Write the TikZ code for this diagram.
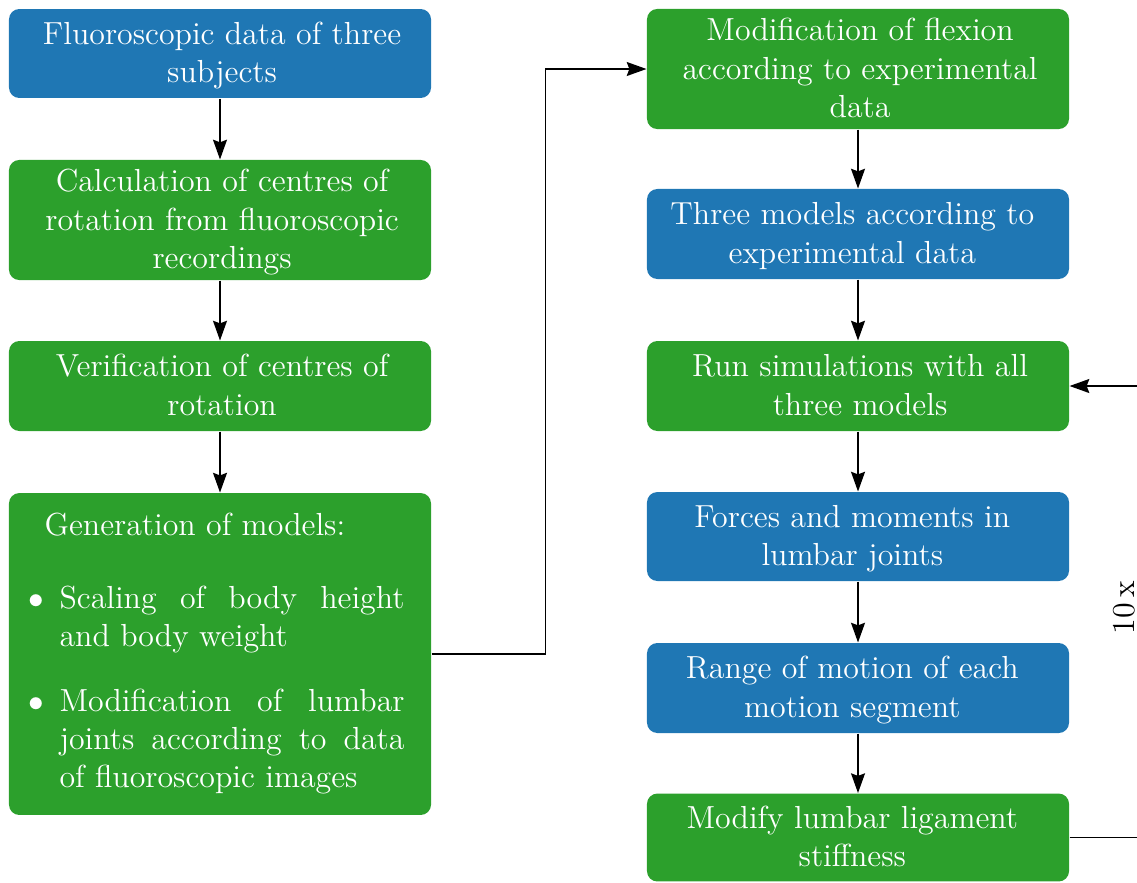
\documentclass[tikz,border=0pt]{standalone}
\usetikzlibrary{arrows.meta}

\definecolor{flowblue}{HTML}{1F77B4}
\definecolor{flowgreen}{HTML}{2CA02C}

% centred block of lines, shifted sideways by #1 and lowered slightly
\newcommand{\boxlines}[2][0pt]{\hspace*{#1}\hspace*{#1}\raisebox{-0.9pt}[\height][\depth]{\begin{tabular}{@{}c@{}}#2\end{tabular}}}

\tikzset{
  boxfont/.style={font=\fontsize{12.3}{14.8}\selectfont},
  flowbox/.style={rounded corners=4pt, minimum width=162.7pt, inner sep=0pt,
    text=white, boxfont},
  bluebox/.style={flowbox, fill=flowblue},
  greenbox/.style={flowbox, fill=flowgreen},
  listtext/.style={inner sep=0pt, text=white, text width=133pt, align=justify,
    boxfont, anchor=base west},
  flowarrow/.style={-{Stealth[length=7.6pt,width=5.4pt,inset=1pt]}, line width=0.55pt},
}

\begin{document}
\begin{tikzpicture}[x=0.3855pt, y=-0.3855pt]
  \useasboundingbox (0,0) rectangle (1137,882);
  \clip (0,0) rectangle (1137,882);

  % left column
  \node[bluebox, minimum height=34.3pt] (l1) at (220,53.5)
    {\boxlines[0.8pt]{Fluoroscopic data of three\\subjects}};
  \node[greenbox, minimum height=46.3pt] (l2) at (220,220)
    {\boxlines[0.8pt]{Calculation of centres of\\rotation from fluoroscopic\\recordings}};
  \node[greenbox, minimum height=34.7pt] (l3) at (220,386)
    {\boxlines[0.8pt]{Verification of centres of\\rotation}};
  \node[greenbox, minimum height=124.1pt] (l4) at (220,654) {};
  \node[listtext] (l4title) at (44,535) {Generation of models:};
  \node[listtext] (l4itemA) at (59,608)
    {\llap{$\bullet$\hspace{6pt}}Scaling of body height\linebreak and body weight};
  \node[listtext] (l4itemB) at (59,711)
    {\llap{$\bullet$\hspace{6pt}}Modification of lumbar\linebreak joints according to data\linebreak of fluoroscopic images};

  % right column
  \node[greenbox, minimum height=46.3pt] (r1) at (858,69)
    {\boxlines[0.8pt]{Modification of flexion\\according to experimental\\data}};
  \node[bluebox, minimum height=34.7pt] (r2) at (858,234)
    {\boxlines[-2.2pt]{Three models according to\\experimental data}};
  \node[greenbox, minimum height=34.7pt] (r3) at (858,386)
    {\boxlines[0.8pt]{Run simulations with all\\three models}};
  \node[bluebox, minimum height=34.3pt] (r4) at (858,536.5)
    {\boxlines[-2.2pt]{Forces and moments in\\lumbar joints}};
  \node[bluebox, minimum height=34.7pt] (r5) at (858,688)
    {\boxlines[-2.2pt]{Range of motion of each\\motion segment}};
  \node[greenbox, minimum height=33.9pt] (r6) at (858,837.5)
    {\boxlines[-2.2pt]{Modify lumbar ligament\\stiffness}};

  % connectors
  \draw[flowarrow] (l1) -- (l2);
  \draw[flowarrow] (l2) -- (l3);
  \draw[flowarrow] (l3) -- (l4);
  \draw[flowarrow] (l4.east) -- ++(114,0) |- (r1.west);
  \draw[flowarrow] (r1) -- (r2);
  \draw[flowarrow] (r2) -- (r3);
  \draw[flowarrow] (r3) -- (r4);
  \draw[flowarrow] (r4) -- (r5);
  \draw[flowarrow] (r5) -- (r6);

  % repetition loop
  \coordinate (loopx) at (1165,0);
  \draw[flowarrow] (r6.east) -- (r6.east -| loopx) |- (r3.east);
  \node[rotate=90, inner sep=0pt, boxfont] (reps) at (1124,608) {10\,x};
\end{tikzpicture}
\end{document}
